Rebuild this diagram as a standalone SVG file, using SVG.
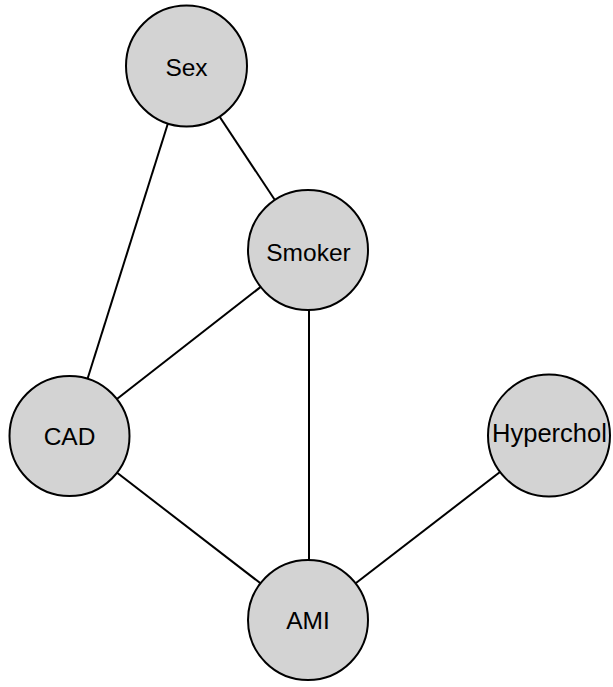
<svg xmlns="http://www.w3.org/2000/svg" width="613" height="687" viewBox="0 0 613 687">
<style>
.edge{stroke:#000;stroke-width:2;fill:none}
.node circle{fill:#d3d3d3;stroke:#000;stroke-width:2}
.node text{font-family:"Liberation Sans",Arial,sans-serif;font-size:24.5px;fill:#000;text-anchor:middle}
</style>
<rect width="613" height="687" fill="#fff"/>
<g id="edges">
<line class="edge" x1="186" y1="66" x2="69.5" y2="436"/>
<line class="edge" x1="186" y1="66" x2="308" y2="250"/>
<line class="edge" x1="308" y1="250" x2="69.5" y2="436"/>
<line class="edge" x1="309" y1="250" x2="309" y2="620"/>
<line class="edge" x1="69.5" y1="436" x2="308" y2="620"/>
<line class="edge" x1="548" y1="435" x2="308" y2="620"/>
</g>
<g id="Sex" class="node"><circle cx="186.5" cy="66" r="60.5"/><text x="186.5" y="76">Sex</text></g>
<g id="Smoker" class="node"><circle cx="308" cy="250" r="60"/><text x="308.5" y="261">Smoker</text></g>
<g id="CAD" class="node"><circle cx="69.5" cy="436" r="60"/><text x="69.5" y="444.5">CAD</text></g>
<g id="Hyperchol" class="node"><circle cx="549" cy="435.5" r="61"/><text x="549.5" y="442" style="font-size:25.5px">Hyperchol</text></g>
<g id="AMI" class="node"><circle cx="308" cy="620" r="60"/><text x="308" y="628.5">AMI</text></g>
</svg>
